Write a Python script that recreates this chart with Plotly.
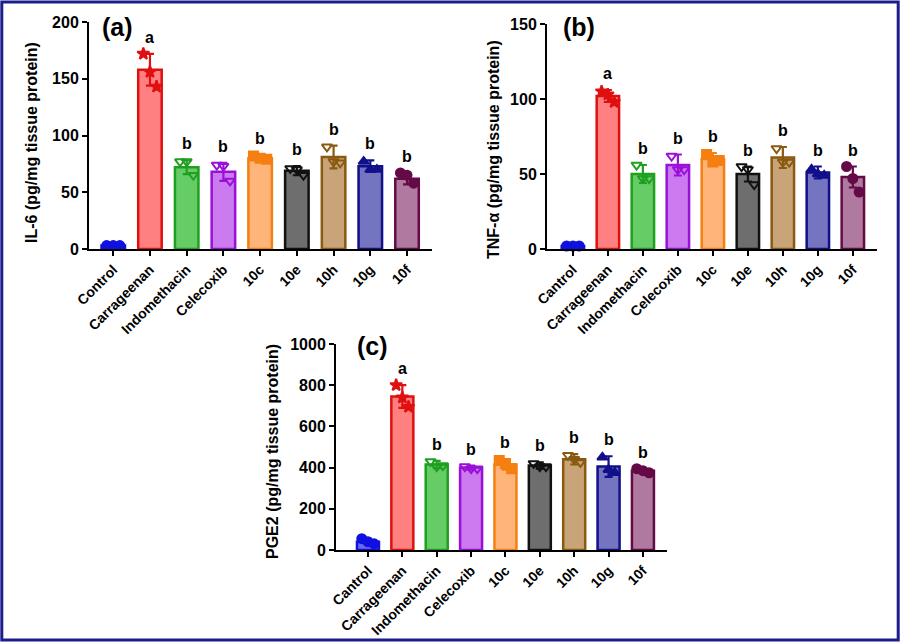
import plotly.graph_objects as go

# ---------------- data ----------------
groups_a = ["Control", "Carrageenan", "Indomethacin", "Celecoxib", "10c", "10e", "10h", "10g", "10f"]
groups_bc = ["Cantrol", "Carrageenan", "Indomethacin", "Celecoxib", "10c", "10e", "10h", "10g", "10f"]

il6_mean = [3, 158, 72, 68, 80, 69, 81, 73, 62]
il6_sd = [0.5, 14, 6, 8, 3, 4, 10, 5, 5]
il6_reps = [[3, 3, 3], [172, 156, 143], [77, 77, 65], [74, 73, 60], [82, 80, 79],
            [71, 70, 65], [90, 77, 76], [77, 70, 70], [67, 65, 58]]
il6_letters = ["", "a", "b", "b", "b", "b", "b", "b", "b"]

tnf_mean = [2, 102, 50, 56, 60, 50, 61, 51, 48]
tnf_sd = [0.5, 4, 6, 7, 4, 5, 7, 4, 7]
tnf_reps = [[2, 2, 2], [105, 103, 98], [56, 47, 47], [62, 53, 53], [63, 58, 59],
            [55, 53, 43], [67, 58, 58], [53, 50, 49], [55, 47, 38]]
tnf_letters = ["", "a", "b", "b", "b", "b", "b", "b", "b"]

pge2_mean = [40, 745, 415, 400, 415, 410, 440, 405, 385]
pge2_sd = [12, 55, 18, 10, 25, 15, 25, 50, 8]
pge2_reps = [[55, 40, 30], [800, 740, 695], [430, 405, 410], [405, 395, 395], [435, 420, 395],
             [420, 405, 405], [460, 440, 425], [450, 390, 375], [395, 385, 375]]
pge2_letters = ["", "a", "b", "b", "b", "b", "b", "b", "b"]

# ---------------- styles ----------------
edge_colors = ["#1010e0", "#e01010", "#20a020", "#9a10d8", "#f57f10", "#111111", "#8a5a10", "#10108a", "#640a46"]
fill_colors = ["#6a6af0", "#ff8080", "#66cc66", "#cc7af0", "#ffb479", "#6e6e6e", "#c8a478", "#7474c0", "#b07aa0"]
symbols = ["circle", "star", "triangle-down-open", "triangle-down-open", "square",
           "triangle-down-open", "triangle-down-open", "triangle-up", "circle"]
jitter = [-0.18, 0.0, 0.18]
FONT = "Liberation Sans"

fig = go.Figure()

panels = [
    dict(groups=groups_a, mean=il6_mean, sd=il6_sd, reps=il6_reps, letters=il6_letters,
         xa="x", ya="y", xdom=[89 / 900, 432 / 900], ydom=[1 - 249 / 642, 1 - 22 / 642],
         xr=[-0.66, 8.68], yr=[0, 200], dt=50, title="IL-6 (pg/mg tissue protein)",
         tpos=(32, 143), tag="(a)", tagpos=(117, 27)),
    dict(groups=groups_bc, mean=tnf_mean, sd=tnf_sd, reps=tnf_reps, letters=tnf_letters,
         xa="x2", ya="y2", xdom=[547 / 900, 877 / 900], ydom=[1 - 249 / 642, 1 - 24 / 642],
         xr=[-0.74, 8.69], yr=[0, 150], dt=50, title="TNF-\u03b1 (pg/mg tissue protein)",
         tpos=(493, 150), tag="(b)", tagpos=(579, 27)),
    dict(groups=groups_bc, mean=pge2_mean, sd=pge2_sd, reps=pge2_reps, letters=pge2_letters,
         xa="x3", ya="y3", xdom=[336 / 900, 667 / 900], ydom=[1 - 550 / 642, 1 - 344 / 642],
         xr=[-0.93, 8.7], yr=[0, 1000], dt=200, title="PGE2 (pg/mg tissue protein)",
         tpos=(272, 452), tag="(c)", tagpos=(372, 346)),
]

annotations = []
for k, p in enumerate(panels):
    idx = list(range(len(p["groups"])))
    fig.add_trace(go.Bar(
        x=idx, y=p["mean"], xaxis=p["xa"], yaxis=p["ya"], width=0.64,
        marker=dict(color=fill_colors, line=dict(color=edge_colors, width=2.5)),
        showlegend=False, hoverinfo="skip"))
    for i in idx:
        fig.add_trace(go.Scatter(
            x=[i], y=[p["mean"][i]], xaxis=p["xa"], yaxis=p["ya"], mode="markers",
            marker=dict(size=1, color="rgba(0,0,0,0)"),
            error_y=dict(type="data", array=[p["sd"][i]], visible=True, thickness=2.2, width=4,
                         color=edge_colors[i]),
            showlegend=False, hoverinfo="skip"))
        xs = [i + j for j in jitter]
        fig.add_trace(go.Scatter(
            x=xs, y=p["reps"][i], xaxis=p["xa"], yaxis=p["ya"], mode="markers",
            marker=dict(symbol=symbols[i], size=9, color=edge_colors[i],
                        line=dict(color=edge_colors[i], width=2)),
            showlegend=False, hoverinfo="skip", cliponaxis=False))
        if p["letters"][i]:
            annotations.append(dict(
                x=i, y=p["mean"][i] + p["sd"][i], xref=p["xa"], yref=p["ya"],
                text=p["letters"][i], showarrow=False, xanchor="center", yanchor="bottom", yshift=6,
                font=dict(family=FONT, size=16, color="black", weight="bold")))
    sfx = "" if k == 0 else str(k + 1)
    axis_common = dict(showline=True, linecolor="black", linewidth=2, ticks="outside",
                       ticklen=5, tickwidth=2, tickcolor="black", showgrid=False,
                       zeroline=False, automargin=False)
    fig.update_layout(**{
        "xaxis" + sfx: dict(domain=p["xdom"], range=p["xr"], anchor=p["ya"],
                            tickmode="array", tickvals=idx, ticktext=p["groups"],
                            tickangle=-45,
                            tickfont=dict(family=FONT, size=14, color="black", weight="bold"),
                            **axis_common),
        "yaxis" + sfx: dict(domain=p["ydom"], range=p["yr"], anchor=p["xa"],
                            dtick=p["dt"], tick0=0,
                            tickfont=dict(family=FONT, size=16, color="black", weight="bold"),
                            **axis_common),
    })
    annotations.append(dict(
        x=p["tpos"][0] / 900, y=1 - p["tpos"][1] / 642, xref="paper", yref="paper",
        xanchor="center", yanchor="middle",
        text=p["title"], textangle=-90, showarrow=False,
        font=dict(family=FONT, size=16, color="black", weight="bold")))
    annotations.append(dict(
        x=p["tagpos"][0] / 900, y=1 - p["tagpos"][1] / 642, xref="paper", yref="paper",
        xanchor="center", yanchor="middle",
        text=p["tag"], showarrow=False,
        font=dict(family=FONT, size=25, color="black", weight="bold")))

fig.update_layout(
    width=900, height=642, autosize=False,
    margin=dict(l=0, r=0, t=0, b=0),
    paper_bgcolor="white", plot_bgcolor="white",
    barmode="overlay", annotations=annotations,
    shapes=[dict(type="rect", xref="paper", yref="paper", x0=0.002, y0=0.003, x1=0.998, y1=0.997,
                 line=dict(color="#1c1c8c", width=3))],
)

fig.write_html("out.html", config={"displayModeBar": False},
               post_script="document.body.style.margin='0';document.body.style.overflow='hidden';")
